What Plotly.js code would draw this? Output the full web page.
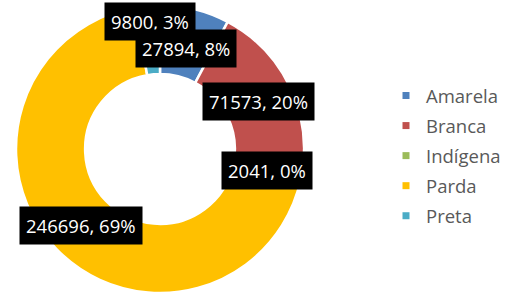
<!DOCTYPE html>
<html>
<head>
<meta charset="utf-8">
<script src="https://cdn.plot.ly/plotly-3.0.1.min.js"></script>
<style>html,body{margin:0;padding:0;background:#fff;}#chart{width:512px;height:294px;}</style>
</head>
<body>
<div id="chart"></div>
<script>
// Data
const categories = ['Amarela', 'Branca', 'Indígena', 'Parda', 'Preta'];
const values = [27894, 71573, 2041, 246696, 9800];
const percentLabels = [8, 20, 0, 69, 3];
const colors = ['#4F81BD', '#C0504D', '#9BBB59', '#FFC000', '#4BACC6'];

// Label box centres in pixels (manually placed, as in the source chart)
const labelPos = [[186, 49], [258, 101], [267, 170], [81, 225], [150, 22]];

const W = 512, H = 294;
const FONT = 'Open Sans, Liberation Sans, sans-serif';

const pie = {
  type: 'pie',
  labels: categories,
  values: values,
  sort: false,
  direction: 'clockwise',
  rotation: 0,
  hole: 0.52,
  textinfo: 'none',
  showlegend: false,
  marker: {colors: colors, line: {color: '#ffffff', width: 2.5}},
  domain: {x: [16 / W, 304 / W], y: [1 - 293 / H, 1 - 5 / H]}
};

const legendTraces = categories.map((c, i) => ({
  type: 'scatter', mode: 'markers', x: [null], y: [null], name: c,
  legendgroup: 'g' + i,
  marker: {symbol: 'square', size: 7, color: colors[i]},
  showlegend: true, hoverinfo: 'skip'
}));

const order = [4, 0, 1, 2, 3];
const annotations = order.map(i => ({
  xref: 'paper', yref: 'paper',
  x: labelPos[i][0] / W, y: 1 - labelPos[i][1] / H,
  xanchor: 'center', yanchor: 'middle',
  text: values[i] + ', ' + percentLabels[i] + '%',
  showarrow: false,
  bgcolor: '#000000',
  borderpad: 6,
  font: {family: FONT, size: 18.5, color: '#ffffff'}
}));

const layout = {
  width: W, height: H,
  margin: {l: 0, r: 0, t: 0, b: 0},
  paper_bgcolor: '#ffffff', plot_bgcolor: '#ffffff',
  xaxis: {visible: false, domain: [0.9, 1]},
  yaxis: {visible: false, domain: [0.9, 1]},
  showlegend: true,
  legend: {
    x: (426 - 40) / W, xanchor: 'left',
    y: 1 - 77 / H, yanchor: 'top',
    font: {family: FONT, size: 18.5, color: '#595959'},
    bgcolor: 'rgba(0,0,0,0)',
    tracegroupgap: 3
  },
  annotations: annotations
};

Plotly.newPlot('chart', [pie].concat(legendTraces), layout, {displayModeBar: false, staticPlot: true});
</script>
</body>
</html>
